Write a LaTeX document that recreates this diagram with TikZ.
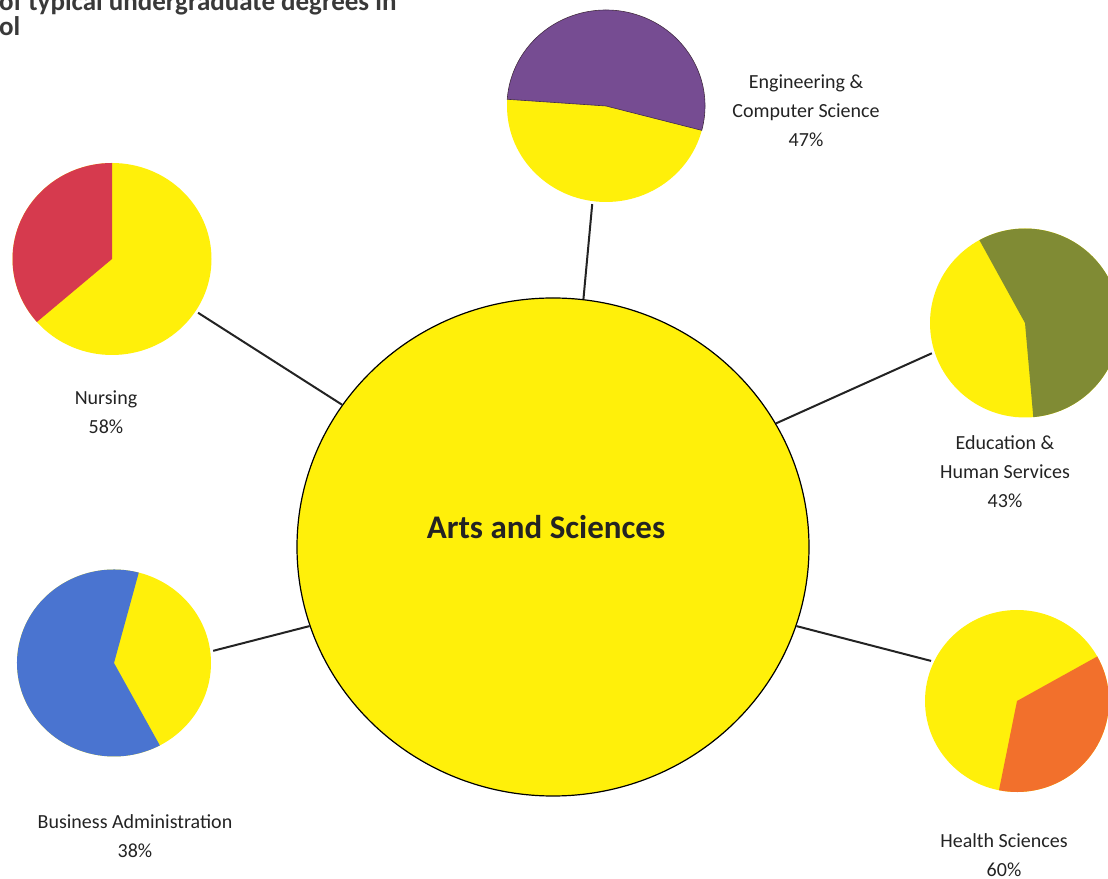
\documentclass[tikz,border=0pt]{standalone}
\usepackage{fontspec}
\setmainfont{Carlito}
\usetikzlibrary{shapes.geometric}
\definecolor{pieyellow}{RGB}{255,240,10}
\definecolor{engpurple}{RGB}{118,76,146}
\definecolor{nursred}{RGB}{214,58,78}
\definecolor{eduolive}{RGB}{128,139,52}
\definecolor{busblue}{RGB}{74,116,208}
\definecolor{healthorange}{RGB}{242,112,44}
\definecolor{inkgray}{RGB}{35,35,35}

\begin{document}
\begin{tikzpicture}[x=1pt,y=1pt,
    pie/.style={ellipse,fill=pieyellow,inner sep=0pt,outer sep=3pt},
    lbl/.style={align=center,text=inkgray,font=\fontsize{20}{29}\selectfont},
    link/.style={line width=2pt,draw=inkgray}]
    \useasboundingbox (0,0) rectangle (1108,878);
    \clip (0,0) rectangle (1108,878);

    % Title (cut off in the scan)
    \node[anchor=base west,align=left,inner sep=0pt,text=inkgray!90,font=\bfseries\fontsize{27}{25}\selectfont] (title) at (-1,842) {of typical undergraduate degrees in\\ol};

    % Centre
    \node[ellipse,draw=black,line width=1.2pt,fill=pieyellow,minimum width=512pt,minimum height=498pt,inner sep=0pt] (arts) at (553,331) {};
    \node[text=inkgray,font=\bfseries\fontsize{33}{40}\selectfont] (artslbl) at (546,351) {Arts and Sciences};

    % Pies
    \node[pie,minimum width=198pt,minimum height=192pt] (eng) at (606,772) {};
    \fill[engpurple,draw=engpurple!55!black,line width=0.6pt] (eng.center) -- ++(-14.7:99pt and 96pt) arc[start angle=-14.7,end angle=176,x radius=99pt,y radius=96pt] -- cycle;

    \node[pie,minimum width=199pt,minimum height=192pt] (nurs) at (112,619) {};
    \fill[nursred] (nurs.center) -- ++(90:99.5pt and 96pt) arc[start angle=90,end angle=221,x radius=99.5pt,y radius=96pt] -- cycle;

    \node[pie,minimum width=190pt,minimum height=189pt] (edu) at (1025,555) {};
    \fill[eduolive] (edu.center) -- ++(-85:95pt and 94.5pt) arc[start angle=-85,end angle=118.7,x radius=95pt,y radius=94.5pt] -- cycle;

    \node[pie,minimum width=194pt,minimum height=187pt] (bus) at (114,215) {};
    \fill[busblue] (bus.center) -- ++(75.2:97pt and 93.5pt) arc[start angle=75.2,end angle=298.2,x radius=97pt,y radius=93.5pt] -- cycle;

    \node[pie,minimum width=184pt,minimum height=182pt] (hlth) at (1017,177) {};
    \fill[healthorange] (hlth.center) -- ++(-101.3:92pt and 91pt) arc[start angle=-101.3,end angle=29.3,x radius=92pt,y radius=91pt] -- cycle;

    % Links
    \draw[link] (eng.-98.8) -- (arts.83.4);
    \draw[link] (nurs.-32.9) -- (arts.146.7);
    \draw[link] (edu.198.3) -- (arts.29.2);
    \draw[link] (bus.7.1) -- (arts.198.9);
    \draw[link] (hlth.155.9) -- (arts.-18.4);

    % Labels
    \node[lbl] (englbl) at (806,767) {Engineering \&\\Computer Science\\47\%};
    \node[lbl] (nurslbl) at (106,466) {Nursing\\58\%};
    \node[lbl] (edulbl) at (1005,406) {Education \&\\Human Services\\43\%};
    \node[lbl] (buslbl) at (135,42) {Business Administration\\38\%};
    \node[lbl] (hlthlbl) at (1004,23) {Health Sciences\\60\%};
\end{tikzpicture}
\end{document}
